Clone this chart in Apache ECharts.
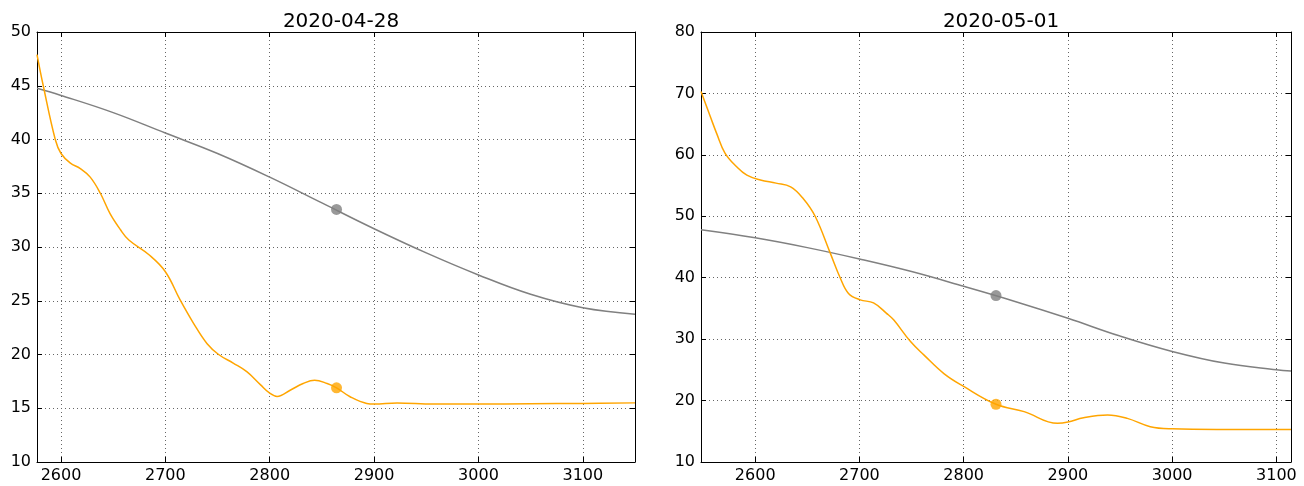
<!DOCTYPE html>
<html>
<head>
<meta charset="utf-8">
<script src="https://cdn.jsdelivr.net/npm/echarts@6/dist/echarts.min.js"></script>
<style>
html,body{margin:0;padding:0;background:#fff;}
#c{width:1304px;height:486px;}
</style>
</head>
<body>
<div id="c"></div>
<script>
// ---- data ----
const titles = ['2020-04-28', '2020-05-01'];

const leftGrayX = [2577, 2600, 2650, 2700, 2750, 2800, 2850, 2900, 2950, 3000, 3050, 3100, 3150];
const leftGray  = [44.76, 44.1, 42.5, 40.6, 38.7, 36.5, 34.1, 31.7, 29.45, 27.4, 25.6, 24.35, 23.75];

const leftOrangeX = [2577, 2583, 2594.5, 2600, 2609, 2618.5, 2628, 2637.7, 2647, 2657, 2665, 2684, 2700, 2714, 2727, 2740, 2751, 2765, 2778, 2791, 2800, 2807, 2820, 2832, 2843, 2855, 2864, 2877, 2893, 2900, 2922, 2957, 3000, 3050, 3100, 3150];
const leftOrange  = [47.9, 45.0, 40.0, 38.7, 37.8, 37.3, 36.5, 35.0, 33.1, 31.6, 30.65, 29.3, 27.7, 25.1, 22.9, 21.0, 20.0, 19.2, 18.4, 17.2, 16.4, 16.1, 16.7, 17.3, 17.6, 17.3, 16.9, 16.07, 15.45, 15.4, 15.5, 15.4, 15.4, 15.42, 15.45, 15.5];

const rightGrayX = [2548, 2600, 2650, 2700, 2750, 2800, 2850, 2900, 2950, 3000, 3050, 3100, 3114];
const rightGray  = [47.8, 46.5, 44.9, 43.05, 41.0, 38.6, 36.1, 33.4, 30.5, 28.0, 26.1, 25.0, 24.8];

const rightOrangeX = [2548, 2557, 2563, 2571, 2582, 2592, 2605, 2620, 2634, 2646, 2657.5, 2672, 2681.5, 2689.5, 2700.7, 2713.5, 2726, 2733, 2749, 2762, 2781, 2800, 2831, 2858, 2890, 2900, 2915, 2938, 2957, 2979, 3000, 3043, 3114];
const rightOrange  = [70.3, 66.2, 63.5, 60.3, 58.1, 56.7, 55.9, 55.4, 54.8, 52.9, 50.0, 44.0, 40.0, 37.45, 36.4, 35.9, 34.2, 33.1, 29.6, 27.4, 24.4, 22.3, 19.4, 18.2, 16.3, 16.5, 17.2, 17.65, 17.1, 15.75, 15.4, 15.3, 15.3];

const leftMarkX = 2864, leftMarkGray = 33.5, leftMarkOrange = 16.9;
const rightMarkX = 2831, rightMarkGray = 37.1, rightMarkOrange = 19.4;

const xTicks = [2600, 2700, 2800, 2900, 3000, 3100];
const leftYTicks = [10, 15, 20, 25, 30, 35, 40, 45, 50];
const rightYTicks = [10, 20, 30, 40, 50, 60, 70, 80];
const leftXRange = [2577, 3150];
const rightXRange = [2548, 3114];
const leftYRange = [10, 50];
const rightYRange = [10, 80];

// ---- styling ----
const FONT = 'DejaVu Sans';
const ORANGE = '#FFA500';
const GRAY = '#808080';

function zip(xs, ys) { return xs.map((x, i) => [x, ys[i]]); }
const plain = v => String(v);

function xAx(gi, range, pos, show) {
  return {
    type: 'value', gridIndex: gi, position: pos, min: range[0], max: range[1],
    axisLine: { show: true, onZero: false, lineStyle: { color: '#000', width: 1 } },
    axisTick: { show: true, inside: true, length: 5, customValues: xTicks, lineStyle: { color: '#000' } },
    axisLabel: { show: show, customValues: xTicks, formatter: plain, color: '#000', fontFamily: FONT, fontSize: 16, margin: 6 },
    splitLine: { show: show, lineStyle: { color: '#666', type: [1, 3], width: 1 } }
  };
}
function yAx(gi, range, ticks, pos, show) {
  return {
    type: 'value', gridIndex: gi, position: pos, min: range[0], max: range[1],
    axisLine: { show: true, onZero: false, lineStyle: { color: '#000', width: 1 } },
    axisTick: { show: true, inside: true, length: 5, customValues: ticks, lineStyle: { color: '#000' } },
    axisLabel: { show: show, customValues: ticks, formatter: plain, color: '#000', fontFamily: FONT, fontSize: 16, margin: 6 },
    splitLine: { show: show, lineStyle: { color: '#666', type: [1, 3], width: 1 } }
  };
}
function lineS(xi, yi, data, color) {
  return { type: 'line', xAxisIndex: xi, yAxisIndex: yi, data: data, smooth: 0.4,
    showSymbol: false, symbol: 'none', lineStyle: { color: color, width: 1.5 }, z: 3 };
}
function markS(xi, yi, data, color) {
  return { type: 'scatter', xAxisIndex: xi, yAxisIndex: yi, data: data, symbol: 'circle',
    symbolSize: 11, itemStyle: { color: color }, z: 4 };
}

const chart = echarts.init(document.getElementById('c'), null, { renderer: 'canvas' });
chart.setOption({
  animation: false,
  backgroundColor: '#fff',
  title: [
    { text: titles[0], left: 336, top: 7, textAlign: 'center',
      textStyle: { fontFamily: FONT, fontSize: 20, fontWeight: 'normal', color: '#000' } },
    { text: titles[1], left: 996, top: 7, textAlign: 'center',
      textStyle: { fontFamily: FONT, fontSize: 20, fontWeight: 'normal', color: '#000' } }
  ],
  grid: [
    { left: 37, right: 669, top: 32, bottom: 24, containLabel: false },
    { left: 701, right: 13, top: 32, bottom: 24, containLabel: false }
  ],
  xAxis: [
    xAx(0, leftXRange, 'bottom', true),
    xAx(0, leftXRange, 'top', false),
    xAx(1, rightXRange, 'bottom', true),
    xAx(1, rightXRange, 'top', false)
  ],
  yAxis: [
    yAx(0, leftYRange, leftYTicks, 'left', true),
    yAx(0, leftYRange, leftYTicks, 'right', false),
    yAx(1, rightYRange, rightYTicks, 'left', true),
    yAx(1, rightYRange, rightYTicks, 'right', false)
  ],
  series: [
    lineS(0, 0, zip(leftGrayX, leftGray), GRAY),
    lineS(0, 0, zip(leftOrangeX, leftOrange), ORANGE),
    markS(0, 0, [[leftMarkX, leftMarkGray]], GRAY),
    markS(0, 0, [[leftMarkX, leftMarkOrange]], ORANGE),
    lineS(2, 2, zip(rightGrayX, rightGray), GRAY),
    lineS(2, 2, zip(rightOrangeX, rightOrange), ORANGE),
    markS(2, 2, [[rightMarkX, rightMarkGray]], GRAY),
    markS(2, 2, [[rightMarkX, rightMarkOrange]], ORANGE)
  ]
});
</script>
</body>
</html>
